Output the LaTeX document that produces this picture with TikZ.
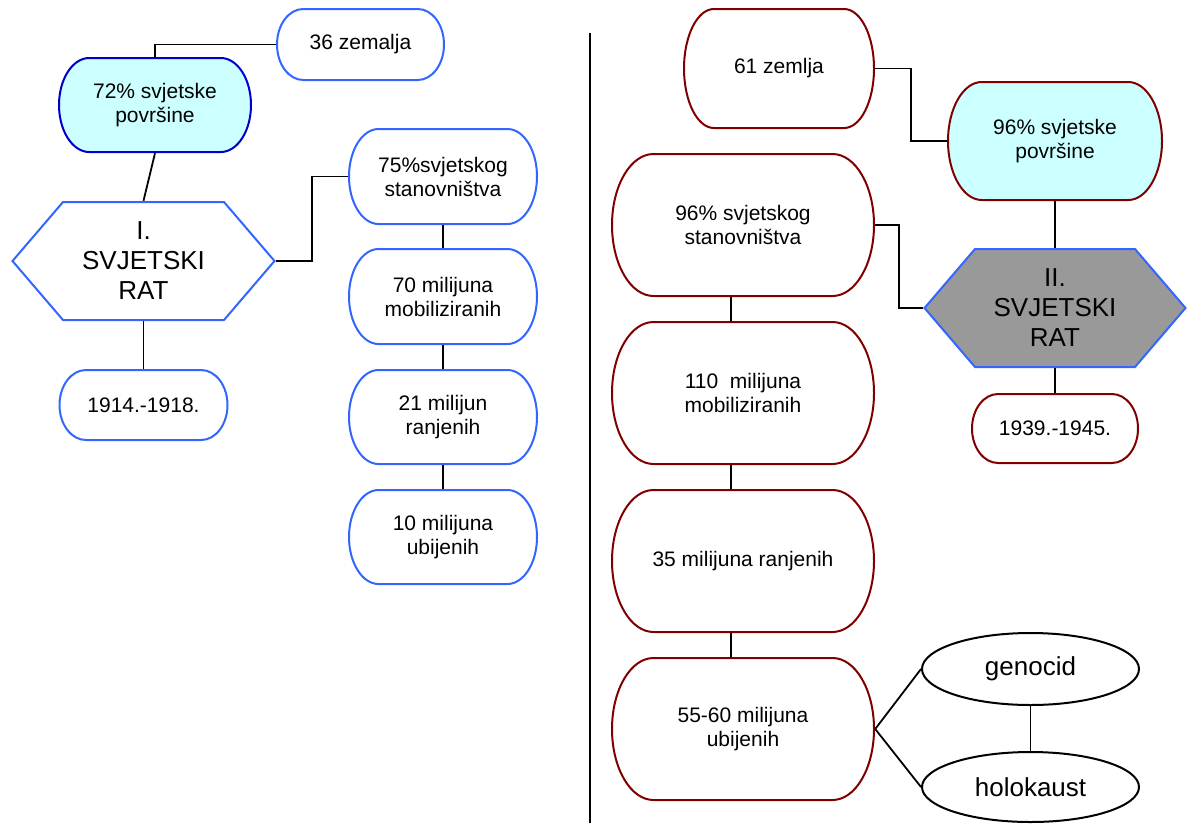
\documentclass[tikz,border=0pt]{standalone}
\usepackage{fontspec}
\setmainfont{Liberation Sans}
\usepackage{tikz}
\usetikzlibrary{shapes.geometric,calc}
\definecolor{wwblue}{RGB}{51,102,255}
\definecolor{wwnavy}{RGB}{0,0,204}
\definecolor{wwred}{RGB}{128,0,0}
\definecolor{wwcyan}{RGB}{204,255,255}
\definecolor{wwgrey}{RGB}{153,153,153}
\newcommand{\boxfont}{\fontsize{21}{24}\selectfont}
\newcommand{\warfont}{\fontsize{26}{30}\selectfont}
\tikzset{
    capsule/.style 2 args={rectangle, inner sep=0pt, align=center, font=\boxfont,
      path picture={\filldraw[draw=#1, fill=#2, line width=2pt]
        let \p1=(path picture bounding box.north west),
            \p2=(path picture bounding box.south east) in
        ({\x2-0.161*(\x2-\x1)},\y1-1pt)
          arc[start angle=90, end angle=-90, x radius={0.161*(\x2-\x1)-1pt}, y radius={0.5*(\y1-\y2)-1pt}]
        -- ({\x1+0.161*(\x2-\x1)},\y2+1pt)
          arc[start angle=270, end angle=90, x radius={0.161*(\x2-\x1)-1pt}, y radius={0.5*(\y1-\y2)-1pt}]
        -- cycle;}},
    warhex/.style 2 args={rectangle, inner sep=0pt, align=center, font=\warfont,
      path picture={\filldraw[draw=#1, fill=#2, line width=2pt]
        let \p1=(path picture bounding box.north west),
            \p2=(path picture bounding box.south east) in
        (\x1+1.5pt,{0.5*\y1+0.5*\y2}) -- (\x1+52pt,\y1-1pt) -- (\x2-52pt,\y1-1pt)
        -- (\x2-1.5pt,{0.5*\y1+0.5*\y2}) -- (\x2-52pt,\y2+1pt) -- (\x1+52pt,\y2+1pt) -- cycle;}},
    oval/.style={ellipse, draw, line width=2pt, inner sep=0pt, font=\warfont,
      minimum width=217pt},
    wire/.style={line width=1.8pt},
}
\begin{document}
\begin{tikzpicture}[x=1pt,y=-1pt]
\useasboundingbox (0,0) rectangle (1194,823);

% prvi svjetski rat
\node[capsule={wwblue}{white}, minimum width=169pt, minimum height=73pt] (zem36) at (360.5,44.5) {36 zemalja};
\node[capsule={wwnavy}{wwcyan}, minimum width=194pt, minimum height=96pt] (pov72) at (155,105) {72\% svjetske\\površine};
\node[warhex={wwblue}{white}, minimum width=265pt, minimum height=120pt] (hexI) at (143.5,261) {I.\\SVJETSKI\\RAT};
\node[capsule={wwblue}{white}, minimum width=170pt, minimum height=72pt] (yrI) at (143.5,405) {1914.-1918.};
\node[capsule={wwblue}{white}, minimum width=190pt, minimum height=97pt] (st75) at (443,176.5) {75\%svjetskog\\stanovništva};
\node[capsule={wwblue}{white}, minimum width=190pt, minimum height=97pt] (mob70) at (443,296.5) {70 milijuna\\mobiliziranih};
\node[capsule={wwblue}{white}, minimum width=190pt, minimum height=96pt] (ran21) at (443,417) {21 milijun\\ranjenih};
\node[capsule={wwblue}{white}, minimum width=190pt, minimum height=96pt] (ubi10) at (443,537) {10 milijuna\\ubijenih};

\draw[wire] (zem36.west) -| (pov72.north);
\draw[wire] (pov72.south) -- (hexI.north);
\draw[wire] (hexI.south) -- (yrI.north);
\draw[wire] (hexI.east) -| ($(hexI.east)!.5!(st75.west)$) |- (st75.west);
\draw[wire] (st75.south) -- (mob70.north);
\draw[wire] (mob70.south) -- (ran21.north);
\draw[wire] (ran21.south) -- (ubi10.north);

% razdjelnica
\coordinate (divtop) at (590,33);
\coordinate (divbot) at (590,823);
\draw[line width=2pt] (divtop) -- (divbot);

% drugi svjetski rat
\node[capsule={wwred}{white}, minimum width=192pt, minimum height=121pt] (zem61) at (779,68.5) {61 zemlja};
\node[capsule={wwred}{wwcyan}, minimum width=216pt, minimum height=120pt] (pov96) at (1055,141) {96\% svjetske\\površine};
\node[capsule={wwred}{white}, minimum width=264pt, minimum height=144pt] (stan96) at (743,225) {96\% svjetskog\\stanovništva};
\node[warhex={wwblue}{wwgrey}, minimum width=264pt, minimum height=120pt] (hexII) at (1055,308) {II.\\SVJETSKI\\RAT};
\node[capsule={wwred}{white}, minimum width=168pt, minimum height=71pt] (yrII) at (1055,428.5) {1939.-1945.};
\node[capsule={wwred}{white}, minimum width=264pt, minimum height=144pt] (mob110) at (743,393) {110\ \ milijuna\\mobiliziranih};
\node[capsule={wwred}{white}, minimum width=264pt, minimum height=144pt] (ran35) at (743,561) {35 milijuna ranjenih};
\node[capsule={wwred}{white}, minimum width=264pt, minimum height=144pt] (ubi55) at (743,729) {55-60 milijuna\\ubijenih};
\node[oval, minimum height=72pt] (geno) at (1030.5,669) {genocid};
\node[oval, minimum height=70pt] (holo) at (1030.5,787) {holokaust};

\draw[wire] (zem61.east) -| ($(zem61.east)!.5!(pov96.west)$) |- (pov96.west);
\draw[wire] (pov96.south) -- (hexII.north);
\draw[wire] (hexII.south) -- (yrII.north);
\draw[wire] (stan96.east) -| ($(stan96.east)!.5!(hexII.west)$) |- (hexII.west);
\draw[wire] ([xshift=-12pt]stan96.south) -- ([xshift=-12pt]mob110.north);
\draw[wire] ([xshift=-12pt]mob110.south) -- ([xshift=-12pt]ran35.north);
\draw[wire] ([xshift=-12pt]ran35.south) -- ([xshift=-12pt]ubi55.north);
\draw[wire] (ubi55.east) -- (geno.west);
\draw[wire] (ubi55.east) -- (holo.west);
\draw[wire] (geno.south) -- (holo.north);
\end{tikzpicture}
\end{document}
